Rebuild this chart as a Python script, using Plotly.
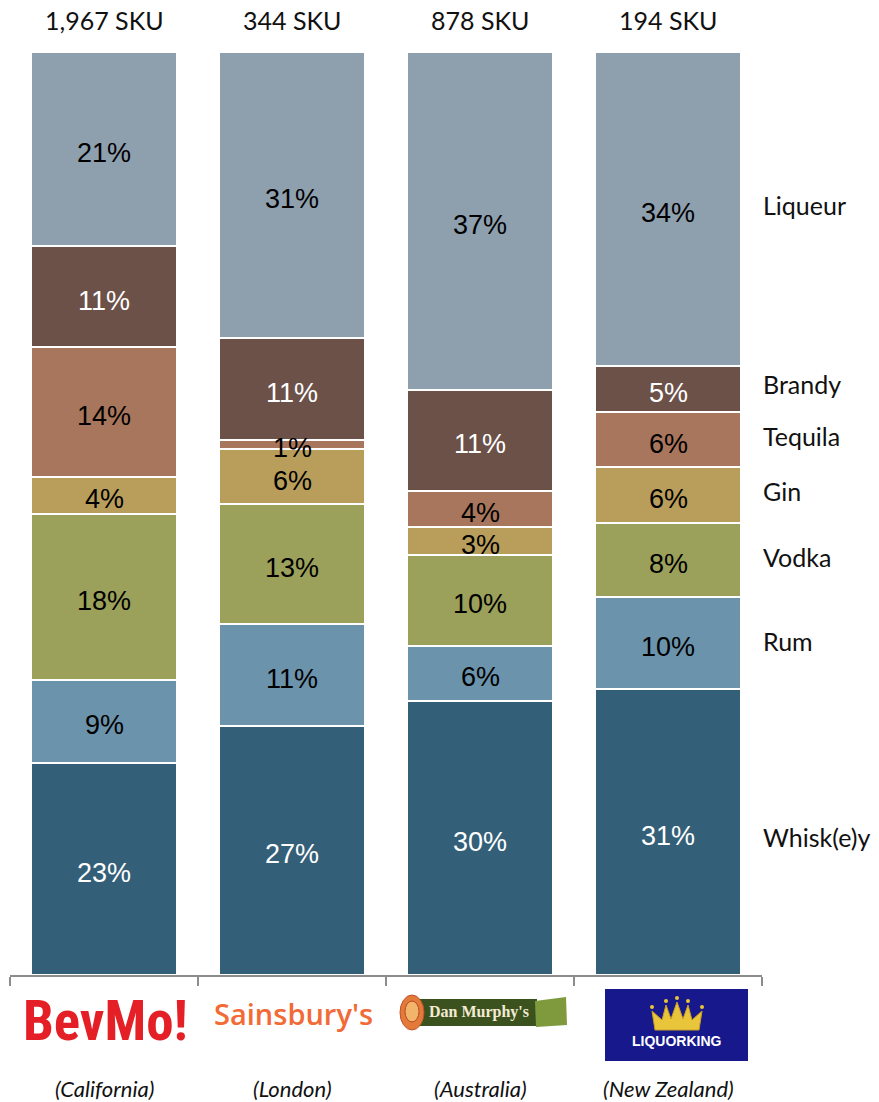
import plotly.graph_objects as go

# Retailers and their spirits assortment mix (share of SKUs, %)
stores = ["BevMo!", "Sainsbury's", "Dan Murphy's", "LiquorKing"]
regions = ["(California)", "(London)", "(Australia)", "(New Zealand)"]
sku_counts = ["1,967 SKU", "344 SKU", "878 SKU", "194 SKU"]

# Stack order, bottom to top
categories = ["Whisk(e)y", "Rum", "Vodka", "Gin", "Tequila", "Brandy", "Liqueur"]
whiskey = [23, 27, 30, 31]
rum = [9, 11, 6, 10]
vodka = [18, 13, 10, 8]
gin = [4, 6, 3, 6]
tequila = [14, 1, 4, 6]
brandy = [11, 11, 11, 5]
liqueur = [21, 31, 37, 34]

series = [whiskey, rum, vodka, gin, tequila, brandy, liqueur]
colors = ["#345F78", "#6B93AB", "#9BA05A", "#B89E5A", "#A8765C", "#6C5149", "#8E9FAE"]
text_colors = ["white", "black", "black", "black", "black", "white", "black"]
# vertical nudge (px) for the category names on the right
name_nudge = [-5, 2, 3, 4, 4, 5, 4]

W, H = 879, 1102
ML, MR, MT, MB = 10, 117, 52, 127
PW, PH = W - ML - MR, H - MT - MB


def px(x):
    return (x - ML) / PW


def py(y):
    return (H - MB - y) / PH


fig = go.Figure()
for name, vals, col in zip(categories, series, colors):
    fig.add_trace(go.Bar(
        x=stores, y=vals, name=name,
        marker=dict(color=col, line=dict(color="white", width=2)),
        hoverinfo="skip",
    ))

annotations = []

# Percentage labels at the centre of each (normalised) segment, drawn on top
for i, s in enumerate(stores):
    col_vals = [ser[i] for ser in series]
    tot = sum(col_vals)
    cum = 0
    for v, tc in zip(col_vals, text_colors):
        annotations.append(dict(x=s, xref="x", y=(cum + v / 2) / tot * 100, yref="y",
                                text=f"{v}%", showarrow=False, yanchor="middle", yshift=-4,
                                font=dict(family="Liberation Sans, Arial", size=27, color=tc)))
        cum += v

# SKU counts above each bar
for s, lab in zip(stores, sku_counts):
    annotations.append(dict(x=s, xref="x", y=py(20), yref="paper", text=lab,
                            showarrow=False, yanchor="middle",
                            font=dict(family="Lato, Open Sans", size=25, color="#111111")))

# Category names beside the last bar, at its segment centres
last = [s[-1] for s in series]
tot = sum(last)
cum = 0
for name, v, dy in zip(categories, last, name_nudge):
    mid = (cum + v / 2) / tot * 100
    cum += v
    annotations.append(dict(x=px(761), xref="paper", y=mid, yref="y", text=name,
                            showarrow=False, xanchor="left", yanchor="middle", yshift=dy,
                            font=dict(family="Lato, Open Sans", size=25, color="#111111")))

# Region captions
for s, r in zip(stores, regions):
    annotations.append(dict(x=s, xref="x", y=py(1088), yref="paper", text=f"<i>{r}</i>",
                            showarrow=False, yanchor="middle",
                            font=dict(family="Lato, Open Sans", size=22, color="#111111")))

# Retailer wordmarks
annotations.append(dict(x=px(105), xref="paper", y=py(1021), yref="paper", text="<b>BevMo!</b>",
                        showarrow=False, xanchor="center", yanchor="middle",
                        font=dict(family="Liberation Sans Narrow, Roboto Condensed, Arial Narrow, Liberation Sans",
                                  size=55, color="#E41F26")))
annotations.append(dict(x=px(293), xref="paper", y=py(1013), yref="paper", text="Sainsbury's",
                        showarrow=False, xanchor="center", yanchor="middle",
                        font=dict(family="Open Sans", size=29, color="#F26A36", weight=600)))
annotations.append(dict(x=px(479), xref="paper", y=py(1012), yref="paper", text="<b>Dan Murphy's</b>",
                        showarrow=False, xanchor="center", yanchor="middle",
                        font=dict(family="Liberation Serif, DejaVu Serif", size=16, color="#F3EBD3")))
annotations.append(dict(x=px(677), xref="paper", y=py(1041), yref="paper", text="<b>LIQUORKING</b>",
                        showarrow=False, xanchor="center", yanchor="middle",
                        font=dict(family="Liberation Sans, Arial", size=14, color="white")))

shapes = []


def rect(x0, y0, x1, y1, color):
    shapes.append(dict(type="rect", xref="paper", yref="paper",
                       x0=px(x0), x1=px(x1), y0=py(y1), y1=py(y0),
                       fillcolor=color, line=dict(width=0), layer="below"))


# Dan Murphy's badge
rect(408, 999, 537, 1026, "#3B521E")
shapes.append(dict(type="path", xref="paper", yref="paper",
                   path="M {} {} L {} {} L {} {} L {} {} Z".format(
                       px(535), py(1001), px(566), py(997), px(567), py(1025), px(536), py(1027)),
                   fillcolor="#7E9A3C", line=dict(width=0), layer="below"))
shapes.append(dict(type="circle", xref="paper", yref="paper",
                   x0=px(400), x1=px(424), y0=py(1030), y1=py(995),
                   fillcolor="#E27A3A", line=dict(color="#C4502A", width=1), layer="below"))
shapes.append(dict(type="circle", xref="paper", yref="paper",
                   x0=px(405), x1=px(419), y0=py(1022), y1=py(1001),
                   fillcolor="#F2B46A", line=dict(color="#B8471F", width=1), layer="below"))

# LiquorKing badge
rect(605, 989, 748, 1061, "#16188C")
crown = [(655, 1030), (699, 1030), (702, 1011), (692, 1020), (688, 1005), (683, 1019),
         (677, 1002), (671, 1019), (666, 1005), (662, 1020), (652, 1011)]
path = "M " + " L ".join(f"{px(x)} {py(y)}" for x, y in crown) + " Z"
shapes.append(dict(type="path", xref="paper", yref="paper", path=path,
                   fillcolor="#E8C53A", line=dict(color="#C9A020", width=1)))
for cx, cy in [(652, 1007), (666, 1001), (677, 998), (688, 1001), (702, 1007)]:
    shapes.append(dict(type="circle", xref="paper", yref="paper",
                       x0=px(cx - 2), x1=px(cx + 2), y0=py(cy + 2), y1=py(cy - 2),
                       fillcolor="#E8C53A", line=dict(width=0)))

fig.update_layout(
    width=W, height=H,
    margin=dict(l=ML, r=MR, t=MT, b=MB),
    barmode="stack", barnorm="percent", bargap=0.2234,
    paper_bgcolor="white", plot_bgcolor="white",
    showlegend=False,
    annotations=annotations, shapes=shapes,
    xaxis=dict(showticklabels=False, showgrid=False, zeroline=False,
               showline=True, linecolor="#8C8C8C", linewidth=2,
               ticks="outside", tickson="boundaries", ticklen=9,
               tickcolor="#8C8C8C", tickwidth=2),
    yaxis=dict(range=[0, 100], visible=False),
)

fig.write_html("out.html")
